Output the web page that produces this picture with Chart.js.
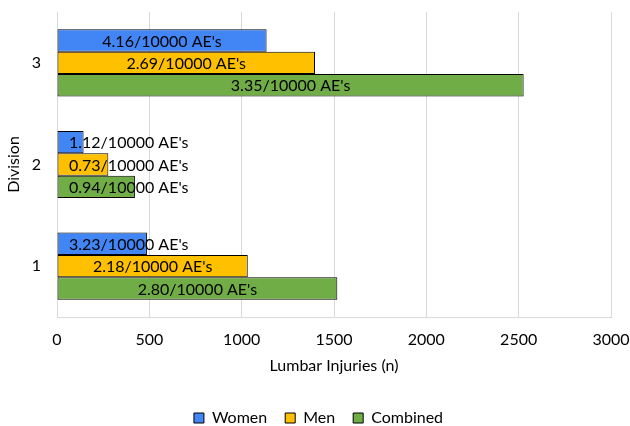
<!DOCTYPE html>
<html>
<head>
<meta charset="utf-8">
<script src="https://cdn.jsdelivr.net/npm/chart.js@4"></script>
<style>
  html, body { margin: 0; padding: 0; background: #fff; }
  #wrap { width: 630px; height: 426px; }
</style>
</head>
<body>
<div id="wrap"><canvas id="chart"></canvas></div>
<script>
const divisions = ['1', '2', '3'];
const women = [487, 144, 1135];
const men = [1033, 278, 1397];
const combined = [1518, 422, 2527];
const womenRates = ["3.23/10000 AE's", "1.12/10000 AE's", "4.16/10000 AE's"];
const menRates = ["2.18/10000 AE's", "0.73/10000 AE's", "2.69/10000 AE's"];
const combinedRates = ["2.80/10000 AE's", "0.94/10000 AE's", "3.35/10000 AE's"];
const xTicks = [0, 500, 1000, 1500, 2000, 2500, 3000];

const FONT = 'Lato, "Open Sans", sans-serif';
const FS = 16;

// labels centred in the bar, but kept inside the plot when the bar is short
const barLabels = {
    id: 'barLabels',
    afterLayout(chart) {
        // nudge legend a little right, like the original
        chart.legend.left += 13;
        chart.legend.right += 13;
    },
    afterDatasetsDraw(chart) {
        const ctx = chart.ctx;
        const left = chart.chartArea.left;
        ctx.save();
        ctx.font = FS + 'px ' + FONT;
        ctx.fillStyle = '#000';
        ctx.textAlign = 'center';
        ctx.textBaseline = 'middle';
        chart.data.datasets.forEach((ds, i) => {
            const meta = chart.getDatasetMeta(i);
            meta.data.forEach((bar, j) => {
                const text = ds.rateLabels[j];
                const w = ctx.measureText(text).width;
                let x = (bar.base + bar.x) / 2;
                x = Math.max(x, left + w / 2 + 12);
                ctx.fillText(text, x, bar.y + 1);
            });
        });
        ctx.restore();
    }
};

const ctx = document.getElementById('chart').getContext('2d');
new Chart(ctx, {
    type: 'bar',
    data: {
        labels: divisions,
        datasets: [
            { label: 'Women', data: women, rateLabels: womenRates, backgroundColor: '#4285F4' },
            { label: 'Men', data: men, rateLabels: menRates, backgroundColor: '#FFC000' },
            { label: 'Combined', data: combined, rateLabels: combinedRates, backgroundColor: '#70AD47' }
        ].map(d => Object.assign(d, { borderColor: '#000', borderWidth: 1, borderSkipped: false }))
    },
    options: {
        indexAxis: 'y',
        responsive: true,
        maintainAspectRatio: false,
        animation: false,
        layout: { padding: { left: 0, right: 19, top: 12, bottom: -10 } },
        datasets: {
            bar: { barPercentage: 1, categoryPercentage: 0.66 }
        },
        plugins: {
            legend: {
                position: 'bottom',
                labels: {
                    font: { family: FONT, size: FS },
                    color: '#000',
                    boxWidth: 10,
                    boxHeight: 10,
                    padding: 18
                }
            },
            tooltip: { enabled: false }
        },
        scales: {
            x: {
                min: 0,
                max: 3000,
                afterBuildTicks: s => { s.ticks = xTicks.map(v => ({ value: v })); },
                afterFit: s => { s.height = 75; s.paddingLeft = 0; s.paddingRight = 0; },
                grid: { color: '#d9d9d9', drawTicks: false },
                border: { color: '#d9d9d9' },
                ticks: { font: { family: FONT, size: FS }, color: '#000', padding: 13, callback: v => String(v) },
                title: { display: true, text: 'Lumbar Injuries (n)', font: { family: FONT, size: FS }, color: '#000', padding: { top: 4, bottom: 17 } }
            },
            y: {
                reverse: true,
                afterFit: s => { s.width = 57; s.paddingTop = 0; s.paddingBottom = 0; },
                grid: { display: false, drawTicks: false },
                border: { color: '#d9d9d9' },
                ticks: { font: { family: FONT, size: FS }, color: '#000', padding: 16 },
                title: { display: true, text: 'Division', font: { family: FONT, size: FS }, color: '#000' }
            }
        }
    },
    plugins: [barLabels]
});
</script>
</body>
</html>
